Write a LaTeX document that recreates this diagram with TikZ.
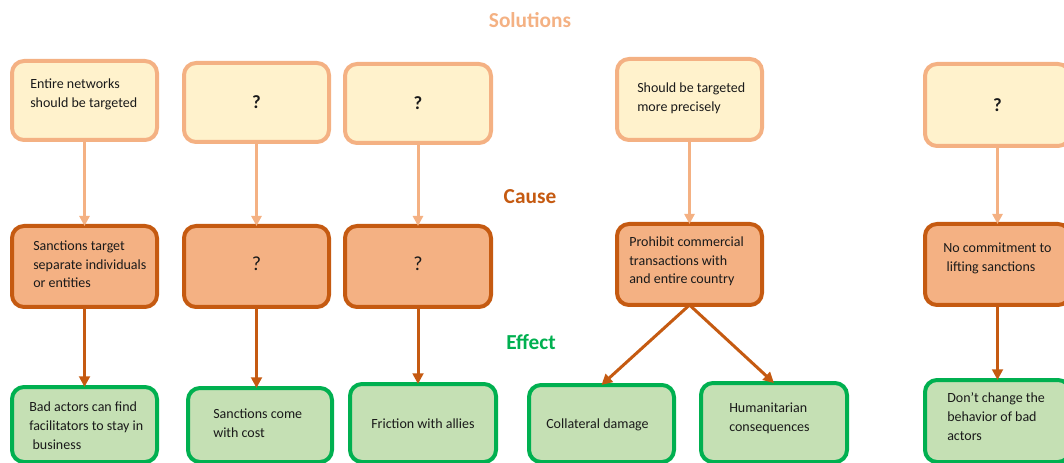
\documentclass[tikz,border=0pt]{standalone}
\usepackage{fontspec}
\setmainfont{Carlito}
\usetikzlibrary{arrows.meta}
\definecolor{solfill}{HTML}{FFF2CC}
\definecolor{solline}{HTML}{F4B183}
\definecolor{causefill}{HTML}{F4B183}
\definecolor{causeline}{HTML}{C55A11}
\definecolor{efffill}{HTML}{C5E0B4}
\definecolor{effline}{HTML}{00B050}
\definecolor{txt}{HTML}{1A1A1A}
\newcommand{\qup}{\raisebox{2.25pt}[\height][\depth]{?}}
\begin{document}
\begin{tikzpicture}[x=0.75pt,y=-0.75pt,
  box/.style={draw, rounded corners=9pt, line width=3pt, inner sep=0pt, outer sep=0pt, text=txt},
  sz/.style 2 args={minimum width=#1*0.75pt, minimum height=#2*0.75pt},
  solbox/.style={box, draw=solline, fill=solfill, font=\fontsize{14pt}{16pt}\selectfont\bfseries},
  causebox/.style={box, draw=causeline, fill=causefill, font=\fontsize{15pt}{17pt}\selectfont},
  effbox/.style={box, draw=effline, fill=efffill},
  lbl/.style={anchor=base west, align=left, inner sep=0pt, text=txt, font=\fontsize{10.5pt}{13.9pt}\selectfont},
  head/.style={font=\fontsize{16pt}{19pt}\selectfont\bfseries},
  solarrow/.style={draw=solline, line width=2.25pt, -{Triangle[length=7.5pt,width=7.5pt]}},
  effarrow/.style={draw=causeline, line width=2.25pt, -{Triangle[length=8pt,width=8pt]}},
]
\clip (0,0) rectangle (1064,463);

% headings
\node[head, text=solline] (hsol) at (530,20) {Solutions};
\node[head, text=causeline] (hcause) at (530,197) {Cause};
\node[head, text=effline] (heff) at (531,342) {Effect};

% solutions row
\node[solbox, sz={145}{79}] (s1) at (84.5,100.5) {};
\node[solbox, sz={145}{79}] (s2) at (256.5,102.5) {?};
\node[solbox, sz={146}{79}] (s3) at (418,103.5) {?};
\node[solbox, sz={145}{81}] (s4) at (689.5,99.5) {};
\node[solbox, sz={145}{82}] (s5) at (997.5,105) {?};

% cause row
\node[causebox, sz={145}{81}] (c1) at (84.5,266.5) {};
\node[causebox, sz={145}{81}] (c2) at (256.5,266.5) {\qup};
\node[causebox, sz={146}{81}] (c3) at (418,266.5) {\qup};
\node[causebox, sz={145}{81}] (c4) at (689.5,264.5) {};
\node[causebox, sz={145}{81}] (c5) at (997.5,264.5) {};

% effect row
\node[effbox, sz={145}{75}] (e1) at (84.5,424.5) {};
\node[effbox, sz={144}{74}] (e2) at (260,425) {};
\node[effbox, sz={146}{78}] (e3) at (423,423) {};
\node[effbox, sz={145}{77}] (e4) at (601.5,423.5) {};
\node[effbox, sz={146}{79}] (e5) at (774,422.5) {};
\node[effbox, sz={145}{82}] (e6) at (997.5,421) {};

% connectors
\draw[solarrow] (s1.south) -- (c1.north);
\draw[solarrow] (s2.south) -- (c2.north);
\draw[solarrow] (s3.south) -- (c3.north);
\draw[solarrow] (s4.south) -- (c4.north);
\draw[solarrow] (s5.south) -- (c5.north);

\draw[effarrow] (c1.south) -- (e1.north);
\draw[effarrow] (c2.south) -- (c2.south |- e2.north);
\draw[effarrow] (c3.south) -- (c3.south |- e3.north);
\draw[effarrow] (c4.south) -- (e4.north);
\draw[effarrow] (c4.south) -- (e5.north);
\draw[effarrow] (c5.south) -- (e6.north);

% texts (base anchor = baseline of the last line)
\node[lbl] (t-s1) at (30,107.5) {Entire networks\\should be targeted};
\node[lbl] (t-s4) at (637,111.5) {Should be targeted\\more precisely};
\node[lbl] (t-c1) at (33,288) {Sanctions target\\separate individuals\\or entities};
\node[lbl] (t-c4) at (629,284) {Prohibit commercial\\transactions with\\and entire country};
\node[lbl] (t-c5) at (943,271.5) {No commitment to\\\hspace*{2.5pt}lifting sanctions};
\node[lbl] (t-e1) at (29,449) {Bad actors can find\\facilitators to stay in\\\hspace*{2.5pt}business};
\node[lbl] (t-e2) at (213,437.5) {Sanctions come\\with cost};
\node[lbl] (t-e3) at (371,428) {Friction with allies};
\node[lbl] (t-e4) at (546,428) {Collateral damage};
\node[lbl] (t-e5) at (729,431.5) {Humanitarian\\consequences};
\node[lbl] (t-e6) at (947,440) {Don’t change the\\behavior of bad\\actors};
\end{tikzpicture}
\end{document}
